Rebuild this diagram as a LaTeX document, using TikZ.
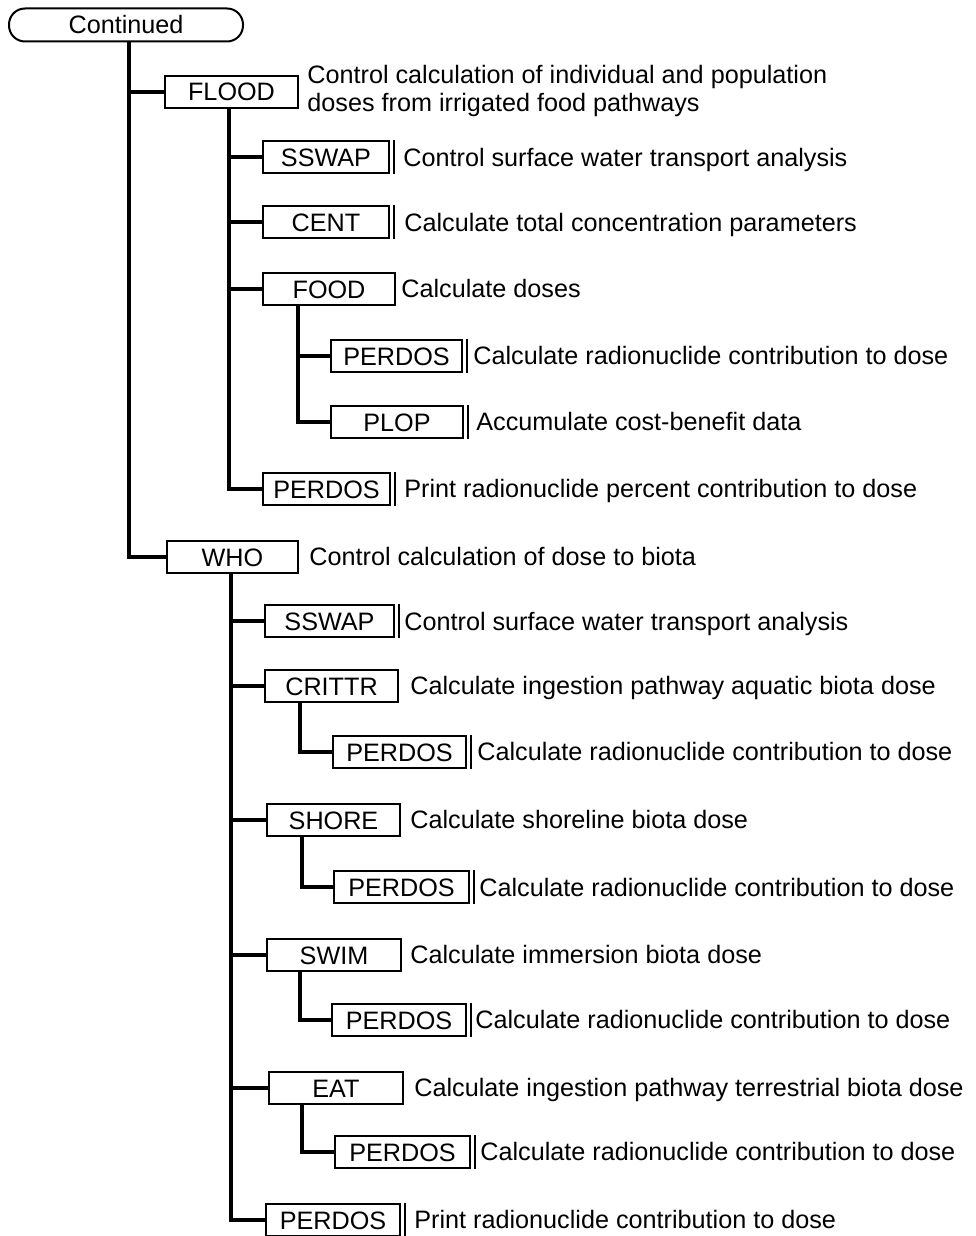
\documentclass[tikz,border=0pt]{standalone}
\usepackage{fontspec}
\setmainfont{Liberation Sans}
\newcommand\fs{\fontsize{12.6}{15}\selectfont}
\tikzset{
  box/.style={draw, line width=1pt, rectangle, minimum height=16pt, inner sep=0pt,
    anchor=west, font=\fs, text height=9pt, text depth=0pt},
  dbl/.style={append after command={([xshift=1.9pt]\tikzlastnode.north east) edge[line width=1pt] ([xshift=1.9pt]\tikzlastnode.south east)}},
  desc/.style={anchor=base west, inner sep=0pt, font=\fs},
  trunk/.style={line width=1.6pt},
}
\begin{document}
\begin{tikzpicture}[x=0.5pt, y=-0.5pt]
\useasboundingbox (0,0) rectangle (975,1236);
\fill[white] (0,0) rectangle (975,1236);

% root
\node[draw, line width=1pt, rounded corners=8pt, minimum width=117pt, minimum height=16.5pt,
  inner sep=0pt, font=\fs, text height=9pt, text depth=0pt, anchor=west] (cont) at (8,25) {Continued};

% level 1
\node[box, minimum width=66.5pt] (flood) at (164,92) {FLOOD};
\node[box, minimum width=65.5pt] (who) at (166,557) {WHO};

% FLOOD children
\node[box, dbl, minimum width=63pt] (sswapA) at (262,157) {SSWAP};
\node[box, dbl, minimum width=63pt] (cent) at (262,222) {CENT};
\node[box, minimum width=66pt] (food) at (262,289) {FOOD};
\node[box, dbl, minimum width=65.5pt] (perA) at (330,356) {PERDOS};
\node[box, dbl, minimum width=66pt] (plop) at (330,422) {PLOP};
\node[box, dbl, minimum width=63.5pt] (perB) at (262,489) {PERDOS};

% WHO children
\node[box, dbl, minimum width=64.5pt] (sswapB) at (264,621) {SSWAP};
\node[box, minimum width=66.5pt] (crittr) at (264,686) {CRITTR};
\node[box, dbl, minimum width=66.5pt] (perC) at (332,752) {PERDOS};
\node[box, minimum width=66.5pt] (shore) at (266,820) {SHORE};
\node[box, dbl, minimum width=67.5pt] (perD) at (333,887) {PERDOS};
\node[box, minimum width=67pt] (swim) at (266,955) {SWIM};
\node[box, dbl, minimum width=67pt] (perE) at (331,1020) {PERDOS};
\node[box, minimum width=67pt] (eat) at (268,1088) {EAT};
\node[box, dbl, minimum width=67.5pt] (perF) at (334,1152) {PERDOS};
\node[box, dbl, minimum width=67pt] (perG) at (265,1220) {PERDOS};

% descriptions
\node[desc] (dflood1) at (307,84) {Control calculation of individual and population};
\node[desc] (dflood2) at (307,112) {doses from irrigated food pathways};
\node[desc] (dsswapA) at (403,166) {Control surface water transport analysis};
\node[desc] (dcent) at (404,231) {Calculate total concentration parameters};
\node[desc] (dfood) at (401,297) {Calculate doses};
\node[desc] (dperA) at (473,364) {Calculate radionuclide contribution to dose};
\node[desc] (dplop) at (476,430) {Accumulate cost-benefit data};
\node[desc] (dperB) at (404,497) {Print radionuclide percent contribution to dose};
\node[desc] (dwho) at (309,565) {Control calculation of dose to biota};
\node[desc] (dsswapB) at (404,630) {Control surface water transport analysis};
\node[desc] (dcrittr) at (410,694) {Calculate ingestion pathway aquatic biota dose};
\node[desc] (dperC) at (477,760) {Calculate radionuclide contribution to dose};
\node[desc] (dshore) at (410,828) {Calculate shoreline biota dose};
\node[desc] (dperD) at (479,896) {Calculate radionuclide contribution to dose};
\node[desc] (dswim) at (410,963) {Calculate immersion biota dose};
\node[desc] (dperE) at (475,1028) {Calculate radionuclide contribution to dose};
\node[desc] (deat) at (414,1096) {Calculate ingestion pathway terrestrial biota dose};
\node[desc] (dperF) at (480,1160) {Calculate radionuclide contribution to dose};
\node[desc] (dperG) at (414,1228) {Print radionuclide contribution to dose};

% trunk x positions
\coordinate (x0) at (129,0);
\coordinate (xF) at (229,0);
\coordinate (xFo) at (298,0);
\coordinate (xW) at (231,0);
\coordinate (xCr) at (300,0);
\coordinate (xSh) at (302,0);
\coordinate (xSw) at (300,0);
\coordinate (xEa) at (302,0);

% connectors
\draw[trunk] (cont.south -| x0) |- (flood.west);
\draw[trunk] (cont.south -| x0) |- (who.west);

\draw[trunk] (flood.south -| xF) |- (sswapA.west);
\draw[trunk] (flood.south -| xF) |- (cent.west);
\draw[trunk] (flood.south -| xF) |- (food.west);
\draw[trunk] (flood.south -| xF) |- (perB.west);

\draw[trunk] (food.south -| xFo) |- (perA.west);
\draw[trunk] (food.south -| xFo) |- (plop.west);

\draw[trunk] (who.south -| xW) |- (sswapB.west);
\draw[trunk] (who.south -| xW) |- (crittr.west);
\draw[trunk] (who.south -| xW) |- (shore.west);
\draw[trunk] (who.south -| xW) |- (swim.west);
\draw[trunk] (who.south -| xW) |- (eat.west);
\draw[trunk] (who.south -| xW) |- (perG.west);

\draw[trunk] (crittr.south -| xCr) |- (perC.west);
\draw[trunk] (shore.south -| xSh) |- (perD.west);
\draw[trunk] (swim.south -| xSw) |- (perE.west);
\draw[trunk] (eat.south -| xEa) |- (perF.west);
\end{tikzpicture}
\end{document}
